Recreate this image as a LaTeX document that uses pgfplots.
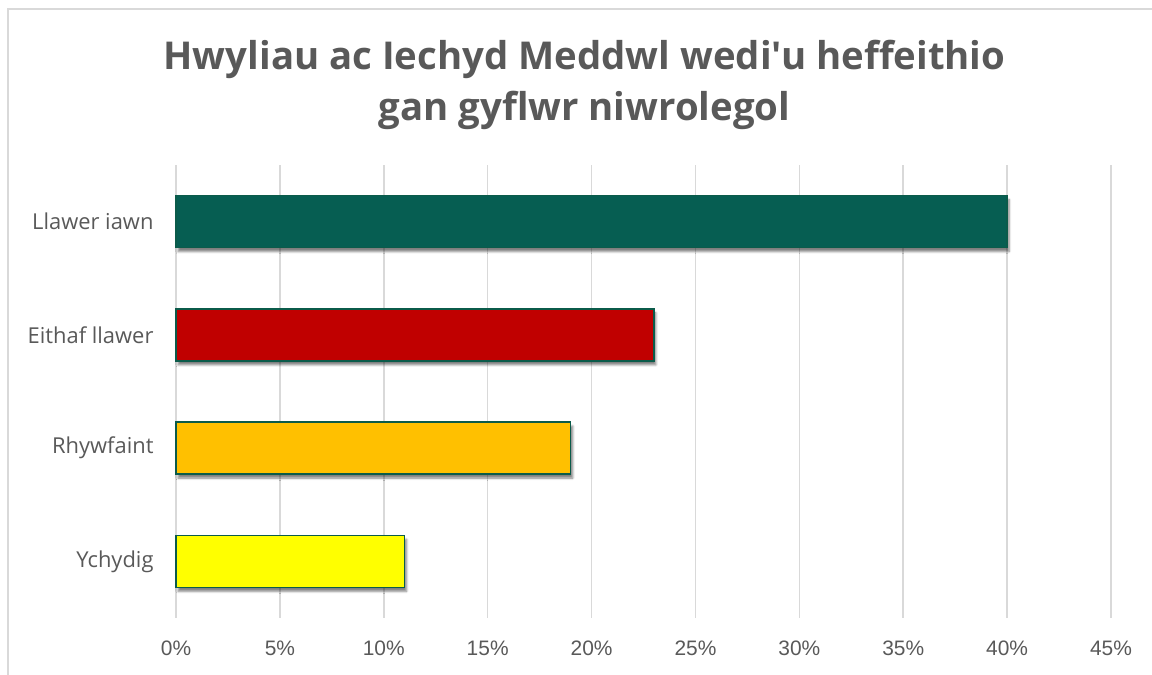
\documentclass[border=0pt]{standalone}
\usepackage{fontspec}
\setmainfont{Open Sans}[Ligatures=TeXOff]
\newfontfamily\tickfont{Liberation Sans}
\usepackage{pgfplots}
\pgfplotsset{compat=1.18}
\usetikzlibrary{shadows.blur}
\definecolor{txt}{HTML}{595959}
\definecolor{gridc}{HTML}{D9D9D9}
\definecolor{cgreen}{HTML}{065E52}
\definecolor{cred}{HTML}{C00000}
\definecolor{corange}{HTML}{FFC000}
\definecolor{cyellow}{HTML}{FFFF00}
\definecolor{outl}{HTML}{0B5B4A}
\begin{document}
\begin{tikzpicture}[x=1bp,y=1bp]
\useasboundingbox (0,0) rectangle (1152,675);
\draw[color=gridc, line width=1.2bp] (8,0) -- (8,666) -- (1152,666);
\node[font=\bfseries\fontsize{38.5}{51}\selectfont, text=txt, align=center] at (584.5,590) {Hwyliau ac Iechyd Meddwl wedi'u heffeithio\\gan gyflwr niwrolegol};
\begin{axis}[
  at={(176bp,57bp)}, anchor=south west,
  scale only axis, width=935bp, height=453bp,
  xmin=0, xmax=45, ymin=-0.5, ymax=3.5,
  xtick={0,5,10,15,20,25,30,35,40,45},
  xticklabels={0\%,5\%,10\%,15\%,20\%,25\%,30\%,35\%,40\%,45\%},
  ytick={0,1,2,3},
  yticklabels={Ychydig,Rhywfaint,Eithaf llawer,Llawer iawn},
  xmajorgrids, ymajorgrids=false,
  major grid style={gridc, line width=1.5bp},
  axis line style={draw=none},
  major tick length=0pt,
  tick label style={text=txt},
  xticklabel style={font=\tickfont\fontsize{21}{24}\selectfont, yshift=-19bp},
  yticklabel style={font=\fontsize{22}{26}\selectfont, xshift=-19bp},
  xbar, bar width=52bp, bar shift=0pt,
  clip=false,
]
\addplot[fill=cgreen, draw=outl, line width=1.4bp, blur shadow={shadow xshift=2bp, shadow yshift=-4bp, shadow blur steps=6, shadow opacity=50}] coordinates {(40,3)};
\addplot[fill=cred, draw=outl, line width=1.4bp, blur shadow={shadow xshift=2bp, shadow yshift=-4bp, shadow blur steps=6, shadow opacity=50}] coordinates {(23,2)};
\addplot[fill=corange, draw=outl, line width=1.4bp, blur shadow={shadow xshift=2bp, shadow yshift=-4bp, shadow blur steps=6, shadow opacity=50}] coordinates {(19,1)};
\addplot[fill=cyellow, draw=outl, line width=1.4bp, blur shadow={shadow xshift=2bp, shadow yshift=-4bp, shadow blur steps=6, shadow opacity=50}] coordinates {(11,0)};
\end{axis}
\end{tikzpicture}
\end{document}
